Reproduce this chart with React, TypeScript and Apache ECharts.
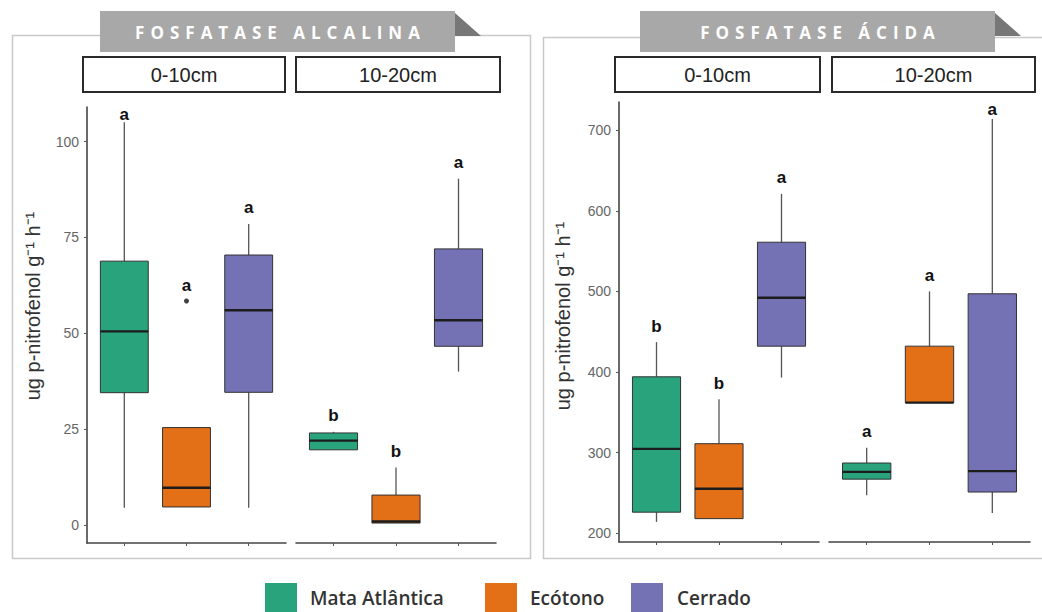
import React, { useEffect, useRef } from "react";
import * as echarts from "echarts";

// ---------- DATA ----------
const sites = ["Mata Atlântica", "Ecótono", "Cerrado"];
const siteColors = ["#28a37b", "#e36f17", "#7571b5"];
const depths = ["0-10cm", "10-20cm"];
const enzymes = ["FOSFATASE ALCALINA", "FOSFATASE ÁCIDA"];
const yTitle = "ug p-nitrofenol g⁻¹ h⁻¹";

// [min, Q1, median, Q3, max] per site
const alcalina010 = [
  [4.5, 34.5, 50.5, 68.8, 105],
  [4.7, 4.7, 9.7, 25.4, 25.4],
  [4.5, 34.6, 56, 70.4, 78.5],
];
const alcalina1020 = [
  [19.6, 19.6, 22, 24, 24.3],
  [0.5, 0.5, 0.9, 7.8, 15],
  [40, 46.6, 53.4, 72, 90.3],
];
const acida010 = [
  [214, 226, 304.5, 394, 437],
  [218, 218, 255, 311, 366],
  [393, 432, 492, 561, 621],
];
const acida1020 = [
  [247, 267, 276, 287, 306],
  [362, 362, 362, 432, 500],
  [225, 251, 277, 497, 714],
];
// outliers per site
const alcalina010Outliers = [[], [58.4], []];
const noOutliers = [[], [], []];

const alcalina010Letters = ["a", "a", "a"];
const alcalina1020Letters = ["b", "b", "a"];
const acida010Letters = ["b", "b", "a"];
const acida1020Letters = ["a", "a", "a"];

const alcalinaTicks = [0, 25, 50, 75, 100];
const acidaTicks = [200, 300, 400, 500, 600, 700];
const alcalinaRange = [-4.7, 109];
const acidaRange = [189, 735];

const facets = [
  { stats: alcalina010, outliers: alcalina010Outliers, letters: alcalina010Letters, ticks: alcalinaTicks, range: alcalinaRange, showY: true },
  { stats: alcalina1020, outliers: noOutliers, letters: alcalina1020Letters, ticks: alcalinaTicks, range: alcalinaRange, showY: false },
  { stats: acida010, outliers: noOutliers, letters: acida010Letters, ticks: acidaTicks, range: acidaRange, showY: true },
  { stats: acida1020, outliers: noOutliers, letters: acida1020Letters, ticks: acidaTicks, range: acidaRange, showY: false },
];

// ---------- LAYOUT ----------
const grids = [
  { left: 87, top: 107, width: 199, height: 436 },
  { left: 296, top: 107, width: 200, height: 436 },
  { left: 619, top: 102, width: 200, height: 440 },
  { left: 829, top: 102, width: 201, height: 440 },
];

const FONT = '"Liberation Sans", Arial, sans-serif';

export default function App() {
  const ref = useRef<HTMLDivElement>(null);

  useEffect(() => {
    if (!ref.current) return;
    const chart = echarts.init(ref.current, undefined, { renderer: "svg" });

    const xAxes: any[] = [];
    const yAxes: any[] = [];
    const series: any[] = [];

    facets.forEach((f, fi) => {
      xAxes.push({
        gridIndex: fi,
        type: "value",
        min: 0.4,
        max: 3.6,
        axisLine: { show: true, onZero: false, lineStyle: { color: "#444", width: 1.6 } },
        axisTick: { show: true, customValues: [1, 2, 3], length: 3, lineStyle: { color: "#555" } },
        axisLabel: { show: false },
        splitLine: { show: false },
      });
      yAxes.push({
        gridIndex: fi,
        type: "value",
        min: f.range[0],
        max: f.range[1],
        show: f.showY,
        axisLine: { show: true, onZero: false, lineStyle: { color: "#444", width: 1.6 } },
        axisTick: { show: true, customValues: f.ticks, length: 3, lineStyle: { color: "#555" } },
        axisLabel: {
          show: true,
          customValues: f.ticks,
          fontSize: 14,
          color: "#666666",
          fontFamily: FONT,
          margin: 8,
        },
        splitLine: { show: false },
      });

      const gTop = grids[fi].top;
      sites.forEach((name, si) => {
        const s = f.stats[si];
        const outs = f.outliers[si];
        const topVal = Math.max(s[4], ...outs);
        const letter = f.letters[si];
        const color = siteColors[si];
        series.push({
          type: "custom",
          name,
          xAxisIndex: fi,
          yAxisIndex: fi,
          clip: false,
          silent: true,
          data: [[si + 1, s[0], s[1], s[2], s[3], s[4], topVal]],
          renderItem: (params: any, api: any) => {
            const x = api.value(0);
            const pLo = api.coord([x, api.value(1)]);
            const pQ1 = api.coord([x, api.value(2)]);
            const pMed = api.coord([x, api.value(3)]);
            const pQ3 = api.coord([x, api.value(4)]);
            const pHi = api.coord([x, api.value(5)]);
            const pTop = api.coord([x, api.value(6)]);
            const l = api.coord([x - 0.385, 0])[0];
            const r = api.coord([x + 0.385, 0])[0];
            const cx = pLo[0];
            const ly = Math.max(pTop[1] - 16, gTop + 7);
            return {
              type: "group",
              children: [
                { type: "line", shape: { x1: cx, y1: pHi[1], x2: cx, y2: pQ3[1] }, style: { stroke: "#555", lineWidth: 1.3 } },
                { type: "line", shape: { x1: cx, y1: pQ1[1], x2: cx, y2: pLo[1] }, style: { stroke: "#555", lineWidth: 1.3 } },
                { type: "rect", shape: { x: l, y: pQ3[1], width: r - l, height: Math.max(pQ1[1] - pQ3[1], 1) }, style: { fill: color, stroke: "#333", lineWidth: 1 } },
                { type: "line", shape: { x1: l, y1: pMed[1], x2: r, y2: pMed[1] }, style: { stroke: "#1c1c1c", lineWidth: 2.4 } },
                {
                  type: "text",
                  x: cx,
                  y: ly,
                  style: { text: letter, fill: "#111", font: `bold 17px ${FONT}`, textAlign: "center", textVerticalAlign: "middle", verticalAlign: "middle" },
                },
              ],
            };
          },
        });
        if (outs.length) {
          series.push({
            type: "scatter",
            name: name + " outlier",
            xAxisIndex: fi,
            yAxisIndex: fi,
            symbol: "circle",
            symbolSize: 5,
            itemStyle: { color: "#111" },
            silent: true,
            data: outs.map((v) => [si + 1, v]),
          });
        }
      });
    });

    const graphics: any[] = [];
    // outer panel borders
    graphics.push({ type: "rect", shape: { x: 12.5, y: 35.5, width: 518, height: 523 }, style: { fill: "none", stroke: "#c9c9c9", lineWidth: 1.5 }, silent: true });
    graphics.push({ type: "rect", shape: { x: 543.5, y: 37.5, width: 505, height: 521 }, style: { fill: "none", stroke: "#c9c9c9", lineWidth: 1.5 }, silent: true });
    // banners
    const banners = [
      { x: 100, w: 355, text: enzymes[0] },
      { x: 640, w: 355, text: enzymes[1] },
    ];
    banners.forEach((b) => {
      graphics.push({ type: "rect", shape: { x: b.x, y: 11, width: b.w, height: 41 }, style: { fill: "#a8a8a8" }, silent: true });
      graphics.push({
        type: "polygon",
        shape: { points: [[b.x + b.w, 13], [b.x + b.w + 26, 36], [b.x + b.w, 36]] },
        style: { fill: "#777" },
        silent: true,
      });
      graphics.push({
        type: "text",
        x: b.x + b.w / 2 + 3,
        y: 32,
        style: { text: b.text, fill: "#fff", font: `bold 17px "Open Sans", ${FONT}`, textAlign: "center", textVerticalAlign: "middle", verticalAlign: "middle" },
        silent: true,
      });
    });
    // facet strips
    const strips = [
      { x: 83, w: 202, text: depths[0] },
      { x: 296, w: 204, text: depths[1] },
      { x: 615, w: 205, text: depths[0] },
      { x: 832, w: 203, text: depths[1] },
    ];
    strips.forEach((s) => {
      graphics.push({ type: "rect", shape: { x: s.x, y: 57, width: s.w, height: 35 }, style: { fill: "#fff", stroke: "#2a2a2a", lineWidth: 2 }, silent: true });
      graphics.push({
        type: "text",
        x: s.x + s.w / 2,
        y: 75,
        style: { text: s.text, fill: "#222", font: `20px ${FONT}`, textAlign: "center", textVerticalAlign: "middle", verticalAlign: "middle" },
        silent: true,
      });
    });
    // y titles
    [
      { x: 33, y: 306 },
      { x: 563, y: 316 },
    ].forEach((p) => {
      graphics.push({
        type: "text",
        x: p.x,
        y: p.y,
        rotation: Math.PI / 2,
        style: { text: yTitle, fill: "#333", font: `20px ${FONT}`, textAlign: "center", textVerticalAlign: "middle", verticalAlign: "middle" },
        silent: true,
      });
    });
    // legend
    const legendPos = [
      { sq: 265, tx: 310 },
      { sq: 485, tx: 530 },
      { sq: 631, tx: 677 },
    ];
    sites.forEach((name, i) => {
      graphics.push({ type: "rect", shape: { x: legendPos[i].sq, y: 583, width: 32, height: 32 }, style: { fill: siteColors[i] }, silent: true });
      graphics.push({
        type: "text",
        x: legendPos[i].tx,
        y: 598,
        style: { text: name, fill: "#333", font: `600 19px "Open Sans", ${FONT}`, textAlign: "left", textVerticalAlign: "middle", verticalAlign: "middle" },
        silent: true,
      });
    });

    chart.setOption({
      animation: false,
      backgroundColor: "#fff",
      textStyle: { color: "#666666" },
      grid: grids.map((g) => ({ ...g, containLabel: false })),
      xAxis: xAxes,
      yAxis: yAxes,
      series,
      graphic: { elements: graphics },
    });

    // banner letter spacing
    const el = ref.current;
    el.querySelectorAll("text").forEach((t) => {
      if ((t.textContent || "").startsWith("FOSFATASE")) t.setAttribute("letter-spacing", "6");
    });

    return () => chart.dispose();
  }, []);

  return <div ref={ref} style={{ position: "fixed", left: 0, top: 0, width: 1042, height: 612 }} />;
}
